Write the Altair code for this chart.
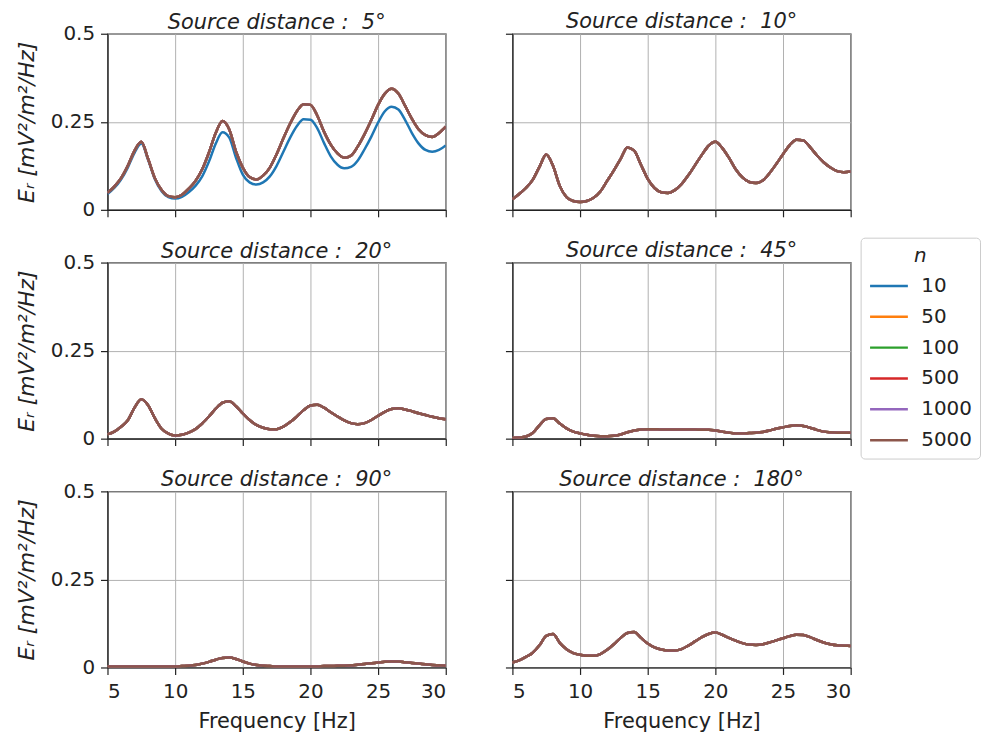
import altair as alt
import pandas as pd

FREQ = [5.0, 5.5, 6.0, 6.5, 7.0, 7.5, 8.0, 8.5, 9.0, 9.5,
        10.0, 10.5, 11.0, 11.5, 12.0, 12.5, 13.0, 13.5, 14.0, 14.5,
        15.0, 15.5, 16.0, 16.5, 17.0, 17.5, 18.0, 18.5, 19.0, 19.5,
        20.0, 20.5, 21.0, 21.5, 22.0, 22.5, 23.0, 23.5, 24.0, 24.5,
        25.0, 25.5, 26.0, 26.5, 27.0, 27.5, 28.0, 28.5, 29.0, 29.5, 30.0]

N_VALUES = ["10", "50", "100", "500", "1000", "5000"]
COLORS = ["#1f77b4", "#ff7f0e", "#2ca02c", "#d62728", "#9467bd", "#8c564b"]
DISTANCES = ["5", "10", "20", "45", "90", "180"]

# Source distance 5 deg: n = 10 differs, n >= 50 coincide
E5_N10 = [0.045, 0.062, 0.086, 0.120, 0.162, 0.188, 0.142, 0.087, 0.053, 0.036,
          0.032, 0.037, 0.050, 0.068, 0.095, 0.137, 0.188, 0.220, 0.205, 0.148,
          0.100, 0.078, 0.072, 0.078, 0.095, 0.125, 0.165, 0.205, 0.238, 0.257,
          0.256, 0.232, 0.190, 0.152, 0.128, 0.118, 0.122, 0.140, 0.172, 0.208,
          0.248, 0.280, 0.293, 0.285, 0.255, 0.218, 0.188, 0.170, 0.165, 0.170, 0.183]
E5 = [0.048, 0.066, 0.090, 0.125, 0.168, 0.193, 0.145, 0.090, 0.056, 0.039,
      0.036, 0.043, 0.060, 0.082, 0.115, 0.163, 0.218, 0.252, 0.228, 0.165,
      0.120, 0.093, 0.086, 0.097, 0.120, 0.158, 0.203, 0.245, 0.280, 0.300,
      0.298, 0.268, 0.222, 0.185, 0.160, 0.148, 0.154, 0.180, 0.215, 0.255,
      0.298, 0.330, 0.344, 0.330, 0.295, 0.258, 0.228, 0.212, 0.207, 0.218, 0.236]
E10 = [0.030, 0.045, 0.062, 0.085, 0.122, 0.157, 0.125, 0.068, 0.036, 0.025,
       0.022, 0.025, 0.034, 0.052, 0.082, 0.112, 0.145, 0.177, 0.168, 0.128,
       0.088, 0.062, 0.050, 0.048, 0.056, 0.073, 0.098, 0.127, 0.156, 0.182,
       0.193, 0.176, 0.148, 0.115, 0.092, 0.079, 0.076, 0.083, 0.104, 0.130,
       0.158, 0.184, 0.199, 0.197, 0.178, 0.155, 0.135, 0.120, 0.110, 0.107, 0.109]
E20 = [0.012, 0.020, 0.034, 0.052, 0.088, 0.112, 0.095, 0.058, 0.028, 0.014,
       0.009, 0.011, 0.017, 0.027, 0.043, 0.063, 0.085, 0.102, 0.106, 0.092,
       0.072, 0.053, 0.039, 0.031, 0.027, 0.027, 0.034, 0.047, 0.063, 0.081,
       0.094, 0.096, 0.088, 0.075, 0.063, 0.052, 0.044, 0.041, 0.044, 0.053,
       0.065, 0.076, 0.084, 0.086, 0.083, 0.078, 0.072, 0.067, 0.062, 0.058, 0.055]
E45 = [0.002, 0.003, 0.006, 0.016, 0.038, 0.056, 0.058, 0.043, 0.029, 0.020,
       0.015, 0.011, 0.008, 0.007, 0.007, 0.008, 0.012, 0.018, 0.023, 0.026,
       0.027, 0.027, 0.026, 0.026, 0.026, 0.026, 0.026, 0.026, 0.025, 0.025,
       0.023, 0.020, 0.017, 0.015, 0.015, 0.016, 0.017, 0.019, 0.023, 0.028,
       0.032, 0.036, 0.038, 0.036, 0.031, 0.025, 0.020, 0.018, 0.017, 0.017, 0.017]
E90 = [0.003, 0.003, 0.003, 0.003, 0.003, 0.003, 0.003, 0.003, 0.003, 0.003,
       0.003, 0.004, 0.005, 0.007, 0.011, 0.016, 0.022, 0.027, 0.028, 0.024,
       0.017, 0.011, 0.007, 0.005, 0.004, 0.003, 0.003, 0.003, 0.003, 0.003,
       0.003, 0.003, 0.004, 0.004, 0.005, 0.005, 0.006, 0.008, 0.010, 0.012,
       0.014, 0.016, 0.017, 0.017, 0.015, 0.013, 0.011, 0.009, 0.007, 0.006, 0.005]
E180 = [0.014, 0.020, 0.030, 0.042, 0.063, 0.090, 0.095, 0.070, 0.052, 0.041,
        0.036, 0.033, 0.033, 0.038, 0.050, 0.066, 0.084, 0.098, 0.101, 0.084,
        0.068, 0.057, 0.051, 0.048, 0.048, 0.052, 0.062, 0.074, 0.086, 0.095,
        0.099, 0.093, 0.084, 0.076, 0.069, 0.065, 0.064, 0.066, 0.071, 0.077,
        0.083, 0.089, 0.093, 0.092, 0.086, 0.078, 0.071, 0.066, 0.063, 0.062, 0.061]

SERIES = {
    "5": {"10": E5_N10, "rest": E5},
    "10": {"10": E10, "rest": E10},
    "20": {"10": E20, "rest": E20},
    "45": {"10": E45, "rest": E45},
    "90": {"10": E90, "rest": E90},
    "180": {"10": E180, "rest": E180},
}

rows = []
for d in DISTANCES:
    for n in N_VALUES:
        vals = SERIES[d]["10"] if n == "10" else SERIES[d]["rest"]
        for f, v in zip(FREQ, vals):
            rows.append({"dist": d, "n": n, "f": f, "E": v})
df = pd.DataFrame(rows)

FONT = "DejaVu Sans"
W, H = 340, 177
NB = "\u00a0"


def panel(d, left, bottom):
    xaxis = alt.Axis(values=[5, 10, 15, 20, 25, 30], labels=bottom,
                     title="Frequency [Hz]" if bottom else None,
                     grid=True, tickSize=7, labelPadding=7, titlePadding=9)
    yaxis = alt.Axis(values=[0, 0.25, 0.5], labelExpr="toString(datum.value)",
                     labels=left,
                     title="Eᵣ [mV²/m²/Hz]" if left else None,
                     titleFontStyle="italic", titleFontSize=22, grid=True, tickSize=7,
                     labelPadding=6, titlePadding=12)
    return (
        alt.Chart(df)
        .transform_filter(alt.datum.dist == d)
        .mark_line(strokeWidth=2.5, interpolate="monotone", clip=True)
        .encode(
            x=alt.X("f:Q", scale=alt.Scale(domain=[5, 30], nice=False), axis=xaxis),
            y=alt.Y("E:Q", scale=alt.Scale(domain=[0, 0.5], nice=False), axis=yaxis),
            color=alt.Color(
                "n:N",
                scale=alt.Scale(domain=N_VALUES, range=COLORS),
                sort=N_VALUES,
                legend=alt.Legend(
                    title="n", orient="none", legendX=757, legendY=205,
                    symbolType="stroke", symbolSize=1444, symbolStrokeWidth=2.5,
                    labelFontSize=20, labelFont=FONT, titleFont=FONT,
                    titleFontSize=20, titleFontStyle="italic", titleFontWeight="normal",
                    titleAnchor="middle", strokeColor="#cccccc", fillColor="white",
                    padding=8, cornerRadius=4, rowPadding=0, labelOffset=12,
                    labelColor="#222222", titleColor="#222222", titlePadding=0,
                ),
            ),
        )
        .properties(
            width=W, height=H,
            title=alt.TitleParams(text=f"Source distance :{NB}{NB}{d}°", fontStyle="italic",
                                  fontWeight="normal", fontSize=21, font=FONT,
                                  offset=-9 if left else 1, frame="group"),
        )
    )


panels = [
    panel("5", True, False), panel("10", False, False),
    panel("20", True, False), panel("45", False, False),
    panel("90", True, True), panel("180", False, True),
]

chart = (
    alt.concat(*panels, columns=2, bounds="flush", spacing={"row": 53, "column": 67})
    .properties(padding={"left": 6, "top": 0, "right": 0, "bottom": 0})
    .configure_view(stroke="#222222", strokeWidth=1.2)
    .configure_axis(
        domainColor="#222222", tickColor="#222222", labelColor="#222222",
        titleColor="#222222", gridColor="#b0b0b0", gridWidth=1,
        labelFont=FONT, titleFont=FONT, labelFontSize=20, titleFontSize=21,
        titleFontWeight="normal", domainWidth=1.2, tickWidth=1.2,
    )
    .configure_title(color="#222222")
)

chart.save("out.html", embed_options={"renderer": "svg", "actions": False})
